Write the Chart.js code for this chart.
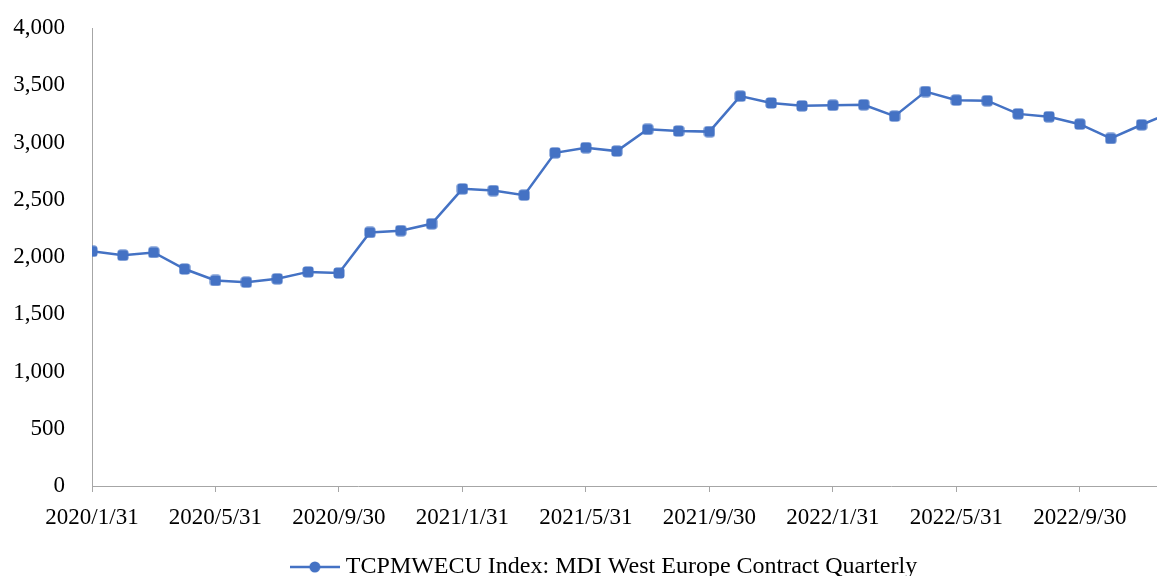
<!DOCTYPE html>
<html lang="en">

<head>
    <meta charset="UTF-8">
    <title>TCPMWECU Index</title>
    <script src="https://cdn.jsdelivr.net/npm/chart.js"></script>
    <style>
        body {
            margin: 0;
            background-color: #ffffff;
        }

        .chart-container {
            width: 1157px;
            height: 576px;
        }
    </style>
</head>

<body>

    <div class="chart-container">
        <canvas id="indexChart"></canvas>
    </div>

    <script>
        // month-end dates, Jan 2020 .. Dec 2022
        const months = [
            '2020/1/31', '2020/2/29', '2020/3/31', '2020/4/30', '2020/5/31', '2020/6/30',
            '2020/7/31', '2020/8/31', '2020/9/30', '2020/10/31', '2020/11/30', '2020/12/31',
            '2021/1/31', '2021/2/28', '2021/3/31', '2021/4/30', '2021/5/31', '2021/6/30',
            '2021/7/31', '2021/8/31', '2021/9/30', '2021/10/31', '2021/11/30', '2021/12/31',
            '2022/1/31', '2022/2/28', '2022/3/31', '2022/4/30', '2022/5/31', '2022/6/30',
            '2022/7/31', '2022/8/31', '2022/9/30', '2022/10/31', '2022/11/30', '2022/12/31'
        ];

        const indexValues = [
            2050, 2015, 2040, 1895, 1795, 1780, 1810, 1870, 1860, 2215, 2230, 2290,
            2595, 2580, 2540, 2910, 2955, 2925, 3115, 3100, 3095, 3405, 3345, 3320,
            3325, 3330, 3230, 3445, 3370, 3365, 3250, 3225, 3160, 3035, 3155, 3265
        ];

        const labelMonths = [0, 4, 8, 12, 16, 20, 24, 28, 32];
        const yTicks = [0, 500, 1000, 1500, 2000, 2500, 3000, 3500, 4000];
        const seriesName = 'TCPMWECU Index: MDI West Europe Contract Quarterly';

        const blue = '#4472c4';
        const axisGray = '#a6a6a6';
        const fontFamily = "'Liberation Serif', 'Times New Roman', serif";

        // rounded square marker used on the line
        const marker = document.createElement('canvas');
        marker.width = 12;
        marker.height = 12;
        (function () {
            const c = marker.getContext('2d');
            c.fillStyle = blue;
            c.beginPath();
            c.roundRect(0.5, 0.5, 11, 11, 3);
            c.fill();
        })();

        // legend symbol: line with a dot in the middle
        const legendSymbol = document.createElement('canvas');
        legendSymbol.width = 50;
        legendSymbol.height = 14;
        (function () {
            const c = legendSymbol.getContext('2d');
            c.strokeStyle = blue;
            c.lineWidth = 2.5;
            c.beginPath();
            c.moveTo(0, 7);
            c.lineTo(50, 7);
            c.stroke();
            c.fillStyle = blue;
            c.beginPath();
            c.arc(25, 7, 5.5, 0, Math.PI * 2);
            c.fill();
        })();

        // Excel centres the legend a bit to the right of the canvas middle
        const legendShift = {
            id: 'legendShift',
            afterLayout: function (chart) {
                chart.legend.left += 28;
                chart.legend.right += 28;
            }
        };

        const ctx = document.getElementById('indexChart').getContext('2d');

        const indexChart = new Chart(ctx, {
            type: 'line',
            data: {
                datasets: [{
                    label: seriesName,
                    data: indexValues.map((v, i) => ({ x: i, y: v })),
                    borderColor: blue,
                    backgroundColor: blue,
                    borderWidth: 2.5,
                    pointStyle: marker,
                    pointRadius: 6,
                    tension: 0
                }]
            },
            plugins: [legendShift],
            options: {
                responsive: true,
                maintainAspectRatio: false,
                animation: false,
                layout: {
                    autoPadding: false,
                    padding: { top: 28, right: 0, bottom: -13, left: 0 }
                },
                scales: {
                    x: {
                        type: 'linear',
                        min: 0,
                        max: 34.5,
                        afterBuildTicks: function (scale) {
                            scale.ticks = labelMonths.map(v => ({ value: v }));
                        },
                        afterFit: function (scale) {
                            scale.paddingLeft = 0;
                            scale.paddingRight = 0;
                            scale.height = 69;
                        },
                        grid: {
                            drawOnChartArea: false,
                            drawTicks: true,
                            tickLength: 6,
                            color: axisGray
                        },
                        border: { color: axisGray, width: 1 },
                        ticks: {
                            callback: function (value) { return months[value]; },
                            color: '#000',
                            padding: 12,
                            maxRotation: 0,
                            autoSkip: false,
                            font: { family: fontFamily, size: 23 }
                        }
                    },
                    y: {
                        min: 0,
                        max: 4000,
                        afterBuildTicks: function (scale) {
                            scale.ticks = yTicks.map(v => ({ value: v }));
                        },
                        afterFit: function (scale) {
                            scale.width = 92;
                            scale.paddingTop = 0;
                            scale.paddingBottom = 0;
                        },
                        grid: { display: false, drawTicks: false },
                        border: { color: axisGray, width: 1 },
                        ticks: {
                            callback: function (value) { return value.toLocaleString('en-US'); },
                            color: '#000',
                            padding: 27,
                            font: { family: fontFamily, size: 23 }
                        }
                    }
                },
                plugins: {
                    legend: {
                        position: 'bottom',
                        labels: {
                            usePointStyle: true,
                            pointStyleWidth: 38,
                            padding: 0,
                            color: '#000',
                            font: { family: fontFamily, size: 24 },
                            generateLabels: function (chart) {
                                const items = Chart.defaults.plugins.legend.labels.generateLabels(chart);
                                items.forEach(item => { item.pointStyle = legendSymbol; });
                                return items;
                            }
                        }
                    },
                    tooltip: { enabled: false }
                }
            }
        });
    </script>

</body>

</html>
